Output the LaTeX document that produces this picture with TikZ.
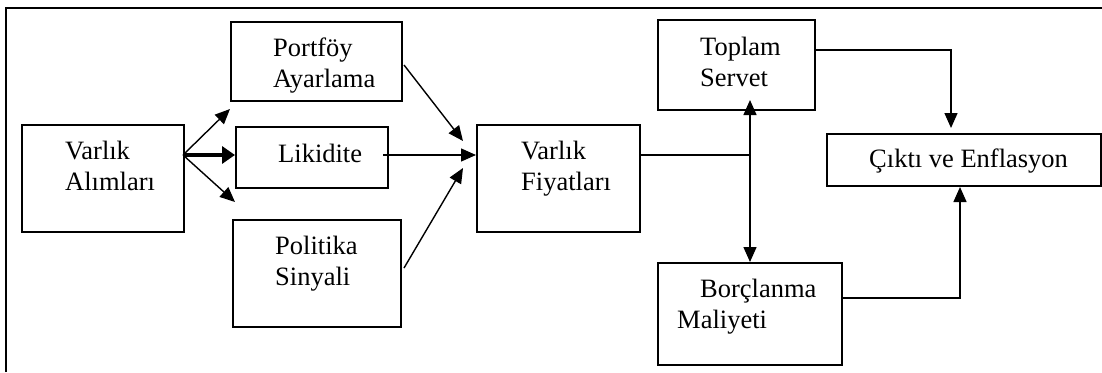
\documentclass[tikz,border=0pt]{standalone}
\usepackage{fontspec}
\setmainfont{Liberation Serif}
\usetikzlibrary{arrows.meta}
\tikzset{
  box/.style={draw, line width=1.5pt, rectangle, inner sep=0pt, anchor=north west},
  lbl/.style={anchor=north west, inner sep=0pt, align=left, font=\fontsize{26.5}{31}\selectfont},
  arr/.style={line width=1.4pt, -{Triangle[length=15pt,width=13pt]}},
  darr/.style={line width=1.4pt, {Triangle[length=15pt,width=13pt]}-{Triangle[length=15pt,width=13pt]}},
  thickarr/.style={line width=4pt, -{Triangle[length=13pt,width=17pt]}},
  plain/.style={line width=1.4pt},
  frame/.style={line width=2.6pt}
}
\begin{document}
\begin{tikzpicture}[x=1pt,y=-1pt]
\useasboundingbox (0,0) rectangle (1102,372);
% outer frame (top and left visible)
\draw[frame] (6,372) -- (6,8) -- (1102,8);
% boxes
\node[box, minimum width=162pt, minimum height=107pt] (va) at (21,124) {};
\node[box, minimum width=171pt, minimum height=79pt] (pa) at (230,21) {};
\node[box, minimum width=152pt, minimum height=61pt] (li) at (235,126) {};
\node[box, minimum width=168pt, minimum height=107pt] (ps) at (232,219) {};
\node[box, minimum width=163pt, minimum height=107pt] (vf) at (476,124) {};
\node[box, minimum width=157pt, minimum height=90pt] (ts) at (657,19) {};
\node[box, minimum width=184pt, minimum height=102pt] (bm) at (657,262) {};
\node[box, minimum width=274pt, minimum height=52pt] (ce) at (826,133) {};
% labels
\node[lbl] (tva) at (65,141) {Varlık\\Alımları};
\node[lbl] (tpa) at (273,38) {Portföy\\Ayarlama};
\node[lbl] (tli) at (278,144) {Likidite};
\node[lbl] (tps) at (275,236) {Politika\\Sinyali};
\node[lbl] (tvf) at (521,141) {Varlık\\Fiyatları};
\node[lbl] (tts) at (700,37) {Toplam\\Servet};
\node[lbl] (tbm) at (677,279) {\hspace*{23pt}Borçlanma\\Maliyeti};
\node[lbl] (tce) at (869,149) {Çıktı ve Enflasyon};
% coordinates
\coordinate (vaout) at (183,155);
\coordinate (paend) at (230,109);
\coordinate (psend) at (235,202);
\coordinate (paout) at (404,65);
\coordinate (pain) at (463,141);
\coordinate (liout) at (383,155);
\coordinate (psout) at (404,268);
\coordinate (psin) at (463,168);
\coordinate (j) at (750,155);
\coordinate (tstop) at (750,100);
\coordinate (tsout) at (814,50);
\coordinate (cetop) at (951,128);
\coordinate (bmout) at (841,298);
\coordinate (cebot) at (960,187);
% connectors
\draw[arr] (vaout) -- (paend);
\draw[arr] (vaout) -- (psend);
\draw[thickarr] (vaout) -- (vaout -| li.west);
\draw[arr] (paout) -- (pain);
\draw[arr] (liout) -- (liout -| vf.west);
\draw[arr] (psout) -- (psin);
\draw[plain] (vaout -| vf.east) -- (j);
\draw[darr] (tstop) -- (bm.north -| j);
\draw[arr] (tsout) -| (cetop);
\draw[arr] (bmout) -| (cebot);
\end{tikzpicture}
\end{document}
